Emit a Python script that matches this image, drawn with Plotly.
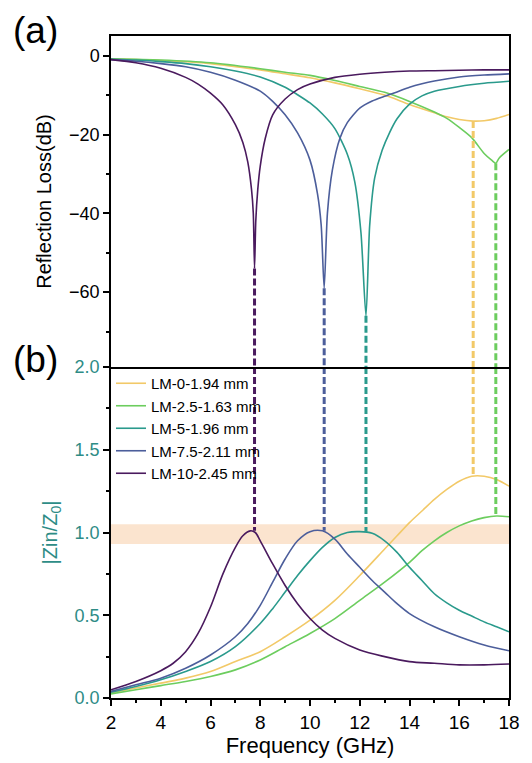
import plotly.graph_objects as go

# ---------------- data ----------------
names = ["LM-0-1.94 mm", "LM-2.5-1.63 mm", "LM-5-1.96 mm", "LM-7.5-2.11 mm", "LM-10-2.45 mm"]
colors = ["#F2C968", "#6CCD5E", "#2A9A8C", "#4C5E9B", "#4A1A5E"]

# Reflection loss (dB) curves
rl0_f = [2, 4, 6, 8, 9, 10, 11, 12, 13, 14, 15, 15.5, 16, 16.56, 17, 17.5, 18]
rl0_v = [-0.8, -1.2, -2.0, -3.6, -4.6, -5.6, -6.9, -8.4, -10.0, -12.4, -14.5, -15.5, -16.2, -16.6, -16.5, -15.9, -14.9]

rl1_f = [2, 4, 6, 8, 9, 10, 11, 12, 13, 14, 15, 15.5, 16, 16.5, 17, 17.3, 17.47, 17.6, 18]
rl1_v = [-0.8, -1.1, -1.8, -3.3, -4.2, -5.0, -6.3, -7.8, -9.3, -11.6, -14.3, -15.9, -18.2, -20.8, -24.8, -26.5, -27.3, -26.0, -23.8]

rl2_f = [2, 3, 4, 5, 6, 7, 8, 9, 9.5, 10, 10.5, 11, 11.5, 11.8, 12.05, 12.25, 12.4, 12.6, 12.9, 13.2, 13.5, 14, 14.5, 15, 16, 17, 18]
rl2_v = [-0.9, -1.1, -1.5, -2.0, -2.8, -3.9, -5.4, -8.0, -9.9, -12.0, -14.8, -18.5, -25.0, -32.0, -45.0, -66.0, -43.0, -31.0, -24.0, -19.5, -16.0, -12.3, -10.2, -9.0, -7.8, -7.0, -6.5]

rl3_f = [2, 3, 4, 5, 6, 7, 8, 8.5, 9, 9.5, 10, 10.3, 10.45, 10.57, 10.7, 10.9, 11.2, 11.5, 12, 12.5, 13, 13.5, 14, 14.5, 15, 16, 17, 18]
rl3_v = [-1.0, -1.4, -2.0, -2.8, -4.2, -6.2, -9.0, -11.6, -15.0, -19.6, -26.5, -35.0, -43.0, -59.0, -40.0, -29.0, -21.0, -17.0, -13.3, -11.5, -10.3, -9.2, -8.0, -7.1, -6.4, -5.4, -4.9, -4.6]

rl4_f = [2, 3, 4, 5, 5.5, 6, 6.5, 7, 7.3, 7.5, 7.65, 7.72, 7.77, 7.82, 7.9, 8.0, 8.2, 8.5, 9, 9.5, 10, 11, 12, 13, 14, 15, 16, 17, 18]
rl4_v = [-1.0, -1.8, -3.2, -5.5, -7.2, -9.5, -12.5, -17.5, -22.0, -27.0, -34.0, -40.0, -54.0, -42.0, -34.0, -28.0, -21.0, -15.0, -11.0, -8.6, -7.2, -5.5, -4.7, -4.2, -3.9, -3.8, -3.7, -3.6, -3.6]

# |Zin/Z0| curves
z0_f = [2, 3, 4, 5, 6, 7, 8, 9, 10, 11, 12, 13, 13.5, 14, 14.5, 15, 15.5, 16, 16.5, 17, 17.5, 18]
z0_v = [0.03, 0.06, 0.09, 0.12, 0.16, 0.22, 0.28, 0.37, 0.47, 0.59, 0.74, 0.90, 0.98, 1.06, 1.13, 1.20, 1.26, 1.31, 1.34, 1.34, 1.32, 1.28]

z1_f = [2, 3, 4, 5, 6, 7, 8, 9, 10, 11, 12, 13, 14, 14.5, 15, 15.5, 16, 16.5, 17, 17.5, 18]
z1_v = [0.025, 0.05, 0.075, 0.10, 0.13, 0.17, 0.23, 0.31, 0.39, 0.48, 0.59, 0.70, 0.82, 0.89, 0.95, 1.0, 1.04, 1.07, 1.09, 1.10, 1.095]

z2_f = [2, 3, 4, 5, 6, 7, 8, 8.5, 9, 9.5, 10, 10.5, 11, 11.5, 12, 12.5, 13, 13.5, 14, 14.5, 15, 15.5, 16, 16.5, 17, 17.5, 18]
z2_v = [0.035, 0.07, 0.11, 0.16, 0.22, 0.31, 0.45, 0.54, 0.64, 0.74, 0.83, 0.91, 0.97, 1.0, 1.005, 0.995, 0.95, 0.88, 0.79, 0.71, 0.63, 0.575, 0.53, 0.495, 0.46, 0.43, 0.40]

z3_f = [2, 3, 4, 5, 6, 7, 7.5, 8, 8.5, 9, 9.5, 10, 10.5, 11, 11.5, 12, 12.5, 13, 13.5, 14, 15, 16, 17, 18]
z3_v = [0.04, 0.08, 0.12, 0.18, 0.26, 0.37, 0.45, 0.56, 0.70, 0.84, 0.95, 1.005, 1.01, 0.96, 0.87, 0.79, 0.71, 0.64, 0.57, 0.51, 0.43, 0.37, 0.32, 0.285]

z4_f = [2, 3, 4, 4.5, 5, 5.5, 6, 6.5, 7, 7.3, 7.6, 7.8, 8, 8.5, 9, 9.5, 10, 10.5, 11, 12, 13, 14, 15, 16, 17, 18]
z4_v = [0.05, 0.10, 0.165, 0.21, 0.28, 0.39, 0.55, 0.75, 0.91, 0.98, 1.01, 1.00, 0.95, 0.81, 0.68, 0.57, 0.48, 0.41, 0.36, 0.29, 0.25, 0.22, 0.21, 0.20, 0.20, 0.205]

# Matching points (dashed guides): frequency, RL minimum, |Zin/Z0| there
dip_f = [16.56, 17.47, 12.25, 10.57, 7.77]
dip_rl = [-16.6, -27.3, -66.0, -59.0, -54.0]
dip_z = [1.34, 1.10, 1.005, 1.01, 1.01]

band = [0.93, 1.05]
rl_range = [-79, 5]
z_range = [0, 2]
x_range = [2, 18]

rl_f = [rl0_f, rl1_f, rl2_f, rl3_f, rl4_f]
rl_v = [rl0_v, rl1_v, rl2_v, rl3_v, rl4_v]
z_f = [z0_f, z1_f, z2_f, z3_f, z4_f]
z_v = [z0_v, z1_v, z2_v, z3_v, z4_v]

FONT = "Liberation Sans, Arial, sans-serif"
TEAL = "#2E8C86"

fig = go.Figure()

for i in range(5):
    fig.add_trace(go.Scatter(x=rl_f[i], y=rl_v[i], mode="lines", xaxis="x2", yaxis="y2",
                             line=dict(color=colors[i], width=1.6, shape="spline", smoothing=0.7),
                             showlegend=False, hoverinfo="skip"))
for i in range(5):
    fig.add_trace(go.Scatter(x=z_f[i], y=z_v[i], mode="lines", xaxis="x", yaxis="y",
                             line=dict(color=colors[i], width=1.6, shape="spline", smoothing=0.9),
                             name=names[i], showlegend=True, hoverinfo="skip"))
# dashed guides
for i in range(5):
    fig.add_trace(go.Scatter(x=[dip_f[i], dip_f[i]], y=[dip_rl[i], rl_range[0]], mode="lines",
                             xaxis="x2", yaxis="y2",
                             line=dict(color=colors[i], width=3, dash="7px,3px"),
                             showlegend=False, hoverinfo="skip"))
    fig.add_trace(go.Scatter(x=[dip_f[i], dip_f[i]], y=[z_range[1], dip_z[i]], mode="lines",
                             xaxis="x", yaxis="y",
                             line=dict(color=colors[i], width=3, dash="7px,3px"),
                             showlegend=False, hoverinfo="skip"))

fig.add_shape(type="rect", xref="x", yref="y", x0=x_range[0], x1=x_range[1], y0=band[0], y1=band[1],
              fillcolor="#FBE4CF", line=dict(width=0), layer="below")

line_common = dict(showline=True, linecolor="black", linewidth=1.5, showgrid=False, zeroline=False)

fig.update_layout(
    width=532, height=763,
    margin=dict(l=111, r=15, t=36, b=65),
    paper_bgcolor="white", plot_bgcolor="white",
    font=dict(family=FONT, color="black"),
    xaxis=dict(domain=[0, 1], anchor="y", range=x_range, tickmode="array", mirror=False,
               tickvals=[2, 4, 6, 8, 10, 12, 14, 16, 18], ticks="outside", ticklen=6, tickwidth=1.5,
               tickcolor="black", tickfont=dict(size=19),
               minor=dict(tickvals=[3, 5, 7, 9, 11, 13, 15, 17], ticks="outside", ticklen=3.5,
                          tickwidth=1.5, tickcolor="black"),
               title=dict(text="Frequency (GHz)", font=dict(size=22), standoff=1),
               **line_common),
    yaxis=dict(domain=[0, 0.5], anchor="x", range=z_range, tickmode="array", mirror=True,
               tickvals=[0, 0.5, 1.0, 1.5, 2.0], ticktext=["0.0", "0.5", "1.0", "1.5", "2.0"],
               ticks="outside", ticklen=6, tickwidth=1.5, tickcolor="black",
               tickfont=dict(size=18, color=TEAL),
               minor=dict(tickvals=[0.25, 0.75, 1.25, 1.75], ticks="outside", ticklen=3.5,
                          tickwidth=1.5, tickcolor="black"),
               title=dict(text="|Zin/Z<sub>0</sub>|", font=dict(size=20, color=TEAL), standoff=12),
               **line_common),
    xaxis2=dict(domain=[0, 1], anchor="y2", range=x_range, matches="x", showticklabels=False,
                ticks="", mirror=True, **line_common),
    yaxis2=dict(domain=[0.5, 1], anchor="x2", range=rl_range, tickmode="array", mirror=True,
                tickvals=[0, -20, -40, -60], ticks="outside", ticklen=6, tickwidth=1.5,
                tickcolor="black", tickfont=dict(size=18),
                minor=dict(tickvals=[-10, -30, -50, -70], ticks="outside", ticklen=3.5,
                           tickwidth=1.5, tickcolor="black"),
                title=dict(text="Reflection Loss(dB)", font=dict(size=20), standoff=12),
                **line_common),
    legend=dict(x=0.0, y=0.5, xanchor="left", yanchor="top", bgcolor="rgba(0,0,0,0)",
                font=dict(size=15, family=FONT), tracegroupgap=0, itemwidth=30,
                borderwidth=0),
    annotations=[
        dict(text="(a)", xref="paper", yref="paper", x=-0.252, y=1.009, xanchor="left",
             yanchor="middle", showarrow=False, font=dict(size=37, family=FONT)),
        dict(text="(b)", xref="paper", yref="paper", x=-0.252, y=0.512, xanchor="left",
             yanchor="middle", showarrow=False, font=dict(size=37, family=FONT)),
    ],
)

fig.write_html("out.html")
